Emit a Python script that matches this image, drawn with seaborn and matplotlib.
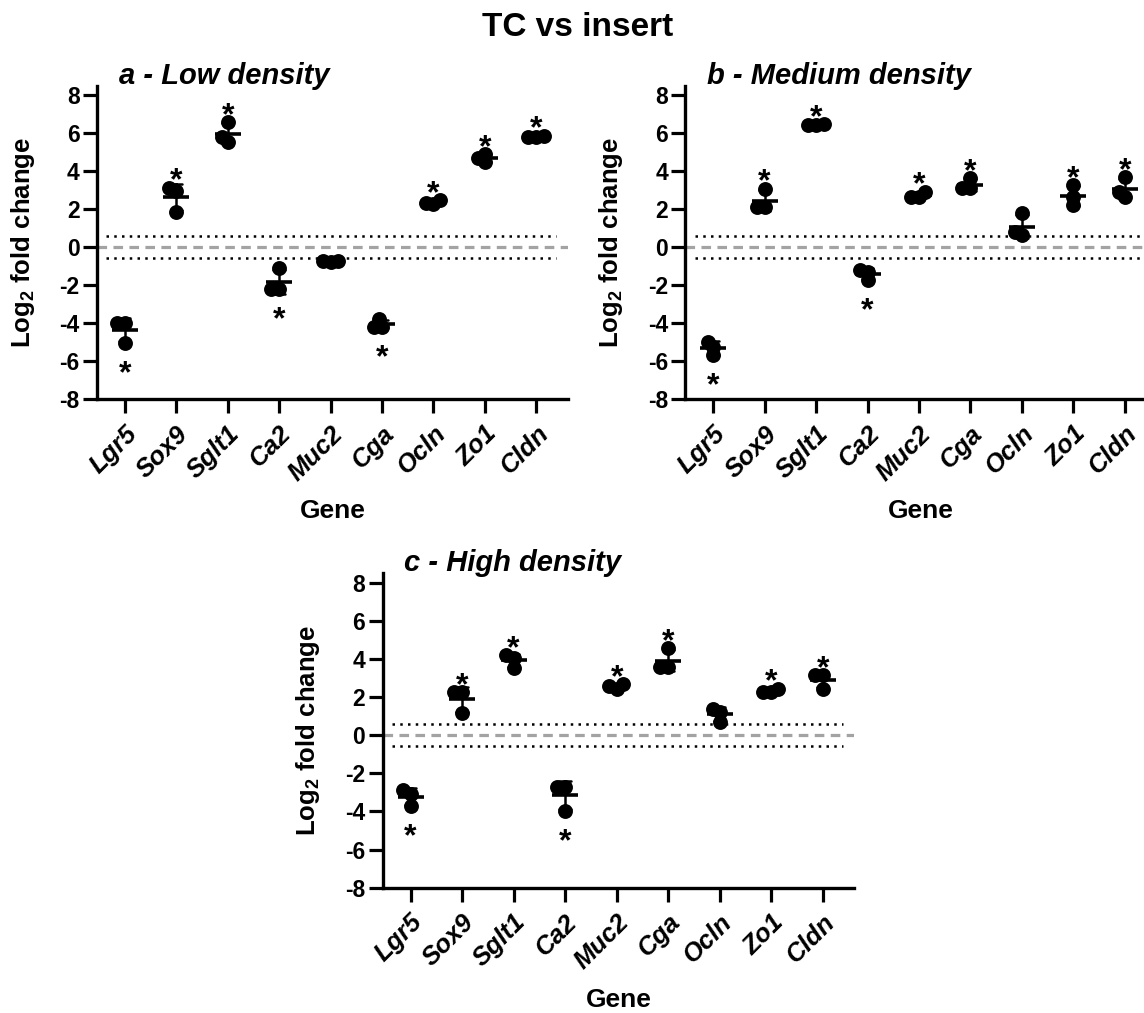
import numpy as np
import pandas as pd
import matplotlib
matplotlib.use("Agg")
import matplotlib.pyplot as plt
import seaborn as sns
from matplotlib.markers import MarkerStyle
from matplotlib.transforms import Affine2D

# ---- data: log2 fold change, TC vs insert, three replicates per gene ----
genes = ["Lgr5", "Sox9", "Sglt1", "Ca2", "Muc2", "Cga", "Ocln", "Zo1", "Cldn"]

low_density = [
    [-4.00, -4.00, -5.05],
    [3.14, 2.96, 1.84],
    [6.59, 5.80, 5.54],
    [-1.10, -2.20, -2.20],
    [-0.78, -0.70, -0.72],
    [-3.80, -4.18, -4.18],
    [2.47, 2.26, 2.33],
    [4.91, 4.70, 4.48],
    [5.82, 5.88, 5.79],
]
medium_density = [
    [-5.67, -4.97, -5.26],
    [3.08, 2.12, 2.12],
    [6.42, 6.48, 6.42],
    [-1.73, -1.29, -1.17],
    [2.66, 2.92, 2.66],
    [3.63, 3.10, 3.10],
    [1.79, 0.65, 0.82],
    [3.28, 2.63, 2.22],
    [3.68, 2.92, 2.66],
]
high_density = [
    [-3.71, -2.89, -3.06],
    [2.27, 2.27, 1.14],
    [3.55, 4.20, 4.07],
    [-2.71, -2.71, -3.97],
    [2.45, 2.68, 2.59],
    [4.55, 3.58, 3.58],
    [0.70, 1.40, 1.22],
    [2.27, 2.45, 2.27],
    [3.15, 3.15, 2.45],
]

# significance flags (asterisk drawn above/below the group)
sig_low = [True, True, True, True, False, True, True, True, True]
sig_medium = [True, True, True, True, True, True, False, True, True]
sig_high = [True, True, True, True, True, True, False, True, True]

panel_titles = ["a - Low density", "b - Medium density", "c - High density"]
fold_threshold = np.log2(1.5)
y_ticks = [-8, -6, -4, -2, 0, 2, 4, 6, 8]

# ---- style ----
sns.set_style("ticks")
plt.rcParams["font.family"] = ["Liberation Sans", "DejaVu Sans"]
plt.rcParams["font.weight"] = "bold"
plt.rcParams["axes.unicode_minus"] = False
plt.rcParams["axes.linewidth"] = 2.4
plt.rcParams["axes.edgecolor"] = "black"
plt.rcParams["text.color"] = "black"
plt.rcParams["axes.labelcolor"] = "black"
plt.rcParams["xtick.color"] = "black"
plt.rcParams["ytick.color"] = "black"

W, H = 1144, 1013
fig = plt.figure(figsize=(W / 100, H / 100), dpi=100)


def px_axes(left, top, right, bottom):
    return fig.add_axes([left / W, 1 - bottom / H, (right - left) / W, (bottom - top) / H])


ax_a = px_axes(97, 85.8, 568, 399.3)
ax_b = px_axes(685.4, 85.8, 1156.4, 399.3)
ax_c = px_axes(382.7, 573.2, 854.5, 887.7)

star_fs = 23
glyph_mid = 0.58 * star_fs


def draw_panel(ax, values, sig, title):
    df = pd.DataFrame({
        "Gene": np.repeat(genes, 3),
        "value": np.ravel(values),
    })
    # threshold lines
    ax.axhline(0, color="#a3a3a3", lw=2.3, ls=(0, (3, 2)), zorder=1)
    for yv in (fold_threshold, -fold_threshold):
        ax.axhline(yv, xmin=0.02, xmax=0.975, color="black", lw=1.8,
                   ls=(0, (1, 2.1)), zorder=1)

    dot = MarkerStyle("o", transform=Affine2D().scale(1.95))
    sns.swarmplot(data=df, x="Gene", y="value", order=genes, color="black",
                  size=5.5, marker=dot, linewidth=0, ax=ax, zorder=3)
    sns.pointplot(data=df, x="Gene", y="value", order=genes, errorbar="sd",
                  capsize=0.22, linestyle="none", marker="_", markersize=19,
                  markeredgewidth=2.6, color="black",
                  err_kws={"linewidth": 1.8}, ax=ax, zorder=4)

    for i, g in enumerate(genes):
        if not sig[i]:
            continue
        v = np.asarray(values[i])
        if v.mean() > 0:
            ax.annotate("*", xy=(i, v.max()), xytext=(0, 12 - glyph_mid),
                        textcoords="offset points", ha="center", va="baseline",
                        fontsize=star_fs, fontweight="bold", zorder=5)
        else:
            ax.annotate("*", xy=(i, v.min()), xytext=(0, -15 - glyph_mid),
                        textcoords="offset points", ha="center", va="baseline",
                        fontsize=star_fs, fontweight="bold", zorder=5)

    ax.set_xlim(-0.54, 8.615)
    ax.set_ylim(-8, 8.5)
    ax.set_yticks(y_ticks)
    ax.set_yticklabels([str(t) for t in y_ticks])
    sns.despine(ax=ax)
    ax.tick_params(axis="both", length=10, width=2.3, color="black")
    ax.tick_params(axis="y", labelsize=16.5, pad=2.5)
    ax.tick_params(axis="x", labelsize=18.5, pad=6)
    for lab in ax.get_xticklabels():
        lab.set_rotation(45)
        lab.set_ha("right")
        lab.set_va("top")
        lab.set_rotation_mode("anchor")
        lab.set_fontstyle("italic")
        lab.set_fontweight("bold")
    for lab in ax.get_yticklabels():
        lab.set_fontweight("bold")

    ax.set_ylabel(r"Log$_\mathregular{2}$ fold change", fontsize=18.5, fontweight="bold")
    ax.yaxis.set_label_coords(-0.128, 0.5)
    ax.set_xlabel("Gene", fontsize=19, fontweight="bold")
    ax.xaxis.set_label_coords(0.5, -0.318)

    ax.annotate(title, xy=(0, 1), xycoords="axes fraction", xytext=(15.5, 1.5),
                textcoords="offset points", ha="left", va="baseline",
                fontsize=21, fontweight="bold", fontstyle="italic")


draw_panel(ax_a, low_density, sig_low, panel_titles[0])
draw_panel(ax_b, medium_density, sig_medium, panel_titles[1])
draw_panel(ax_c, high_density, sig_high, panel_titles[2])

fig.text(578 / W, 1 - 27 / H, "TC vs insert", ha="center", va="center",
         fontsize=24, fontweight="bold")

fig.savefig("out.png", dpi=100)
